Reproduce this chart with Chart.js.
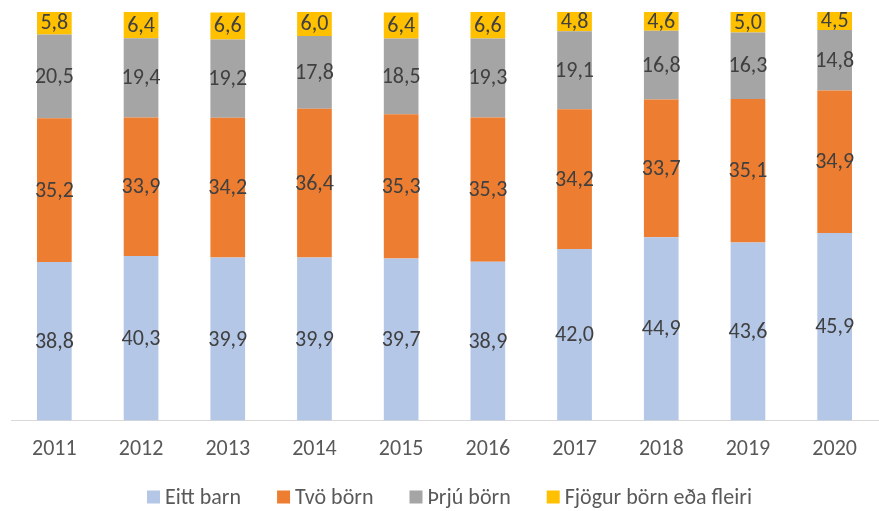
<!DOCTYPE html>
<html><head><meta charset="utf-8">
<script src="https://cdn.jsdelivr.net/npm/chart.js@4/dist/chart.umd.min.js"></script>
<style>html,body{margin:0;padding:0;background:#fff}#wrap{width:879px;height:511px}</style>
</head><body><div id="wrap"><canvas id="c" width="879" height="511"></canvas></div>
<script>
const categories = ['2011','2012','2013','2014','2015','2016','2017','2018','2019','2020'];
const eittBarn = [38.8,40.3,39.9,39.9,39.7,38.9,42.0,44.9,43.6,45.9];
const tvoBorn = [35.2,33.9,34.2,36.4,35.3,35.3,34.2,33.7,35.1,34.9];
const thrjuBorn = [20.5,19.4,19.2,17.8,18.5,19.3,19.1,16.8,16.3,14.8];
const fjogurBorn = [5.8,6.4,6.6,6.0,6.4,6.6,4.8,4.6,5.0,4.5];
const seriesNames = ['Eitt barn','Tvö börn','Þrjú börn','Fjögur börn eða fleiri'];
const colors = ['#B4C7E7','#ED7D31','#A5A5A5','#FFC000'];
const FONT = "Carlito, Calibri, Lato, 'Liberation Sans', sans-serif";

const labelPlugin = {
  id: 'segLabels',
  afterDatasetsDraw(chart) {
    const ctx = chart.ctx;
    ctx.save();
    ctx.font = '22px ' + FONT;
    ctx.fillStyle = '#404040';
    ctx.textAlign = 'center';
    ctx.textBaseline = 'middle';
    chart.data.datasets.forEach((ds, i) => {
      const meta = chart.getDatasetMeta(i);
      meta.data.forEach((el, j) => {
        const v = ds.data[j];
        ctx.fillText(v.toFixed(1).replace('.', ','), el.x, (el.y + el.base) / 2 + 1);
      });
    });
    ctx.restore();
  }
};

// custom bottom legend (box 13px, 5px gap to text, gap between items)
const legendPlugin = {
  id: 'customLegend',
  afterDraw(chart) {
    const ctx = chart.ctx;
    ctx.save();
    ctx.font = '22px ' + FONT;
    ctx.textBaseline = 'middle';
    ctx.textAlign = 'left';
    const box = 13, gapText = 5, gapItem = 36;
    const items = chart.data.datasets.map(ds => ({ text: ds.label, color: ds.backgroundColor, w: ctx.measureText(ds.label).width }));
    const total = items.reduce((s, it) => s + box + gapText + it.w, 0) + gapItem * (items.length - 1);
    let x = chart.width / 2 - total / 2 + 10;
    const y = chart.height - 14;
    items.forEach(it => {
      ctx.fillStyle = it.color;
      ctx.fillRect(x, y - box / 2, box, box);
      ctx.fillStyle = '#595959';
      ctx.fillText(it.text, x + box + gapText, y + 1);
      x += box + gapText + it.w + gapItem;
    });
    ctx.restore();
  }
};

const data = {
  labels: categories,
  datasets: [eittBarn, tvoBorn, thrjuBorn, fjogurBorn].map((d, i) => ({
    label: seriesNames[i],
    data: d,
    backgroundColor: colors[i],
    borderWidth: 0,
    barPercentage: 0.8,
    categoryPercentage: 0.5
  }))
};

new Chart(document.getElementById('c'), {
  type: 'bar',
  data,
  plugins: [labelPlugin, legendPlugin],
  options: {
    responsive: false,
    animation: false,
    layout: { padding: { left: 11, right: 1, top: 12, bottom: 40 } },
    plugins: {
      legend: { display: false },
      tooltip: { enabled: false }
    },
    scales: {
      x: {
        stacked: true,
        grid: { display: false },
        border: { display: true, color: '#D9D9D9', width: 1 },
        ticks: { font: { family: FONT, size: 22 }, color: '#595959', padding: 8 }
      },
      y: {
        stacked: true,
        display: false,
        min: 0,
        max: 100
      }
    }
  }
});
</script></body></html>
